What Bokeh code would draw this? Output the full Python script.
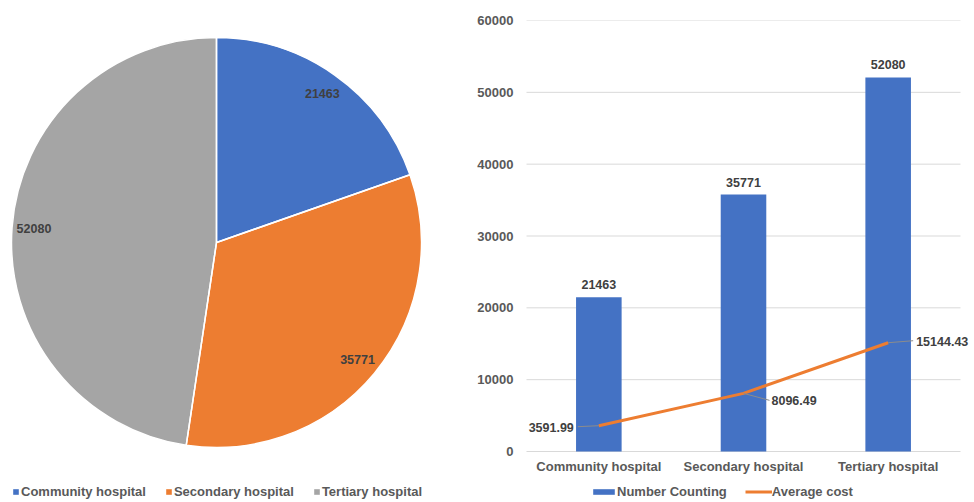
import math
from bokeh.plotting import figure
from bokeh.models import (ColumnDataSource, Range1d, FactorRange, Legend, LegendItem,
                          LabelSet, FixedTicker, NumeralTickFormatter)
from bokeh.layouts import row
from bokeh.core.properties import value
from bokeh.embed import file_html
from bokeh.resources import INLINE

# ---------------- data ----------------
categories = ["Community hospital", "Secondary hospital", "Tertiary hospital"]
counts = [21463, 35771, 52080]
avg_cost = [3591.99, 8096.49, 15144.43]
cost_labels = ["3591.99", "8096.49", "15144.43"]
y_ticks = [0, 10000, 20000, 30000, 40000, 50000, 60000]

# ---------------- style ----------------
colors = ["#4472C4", "#ED7D31", "#A5A5A5"]
FONT = "Liberation Sans"
AXIS_COLOR = "#595959"
LABEL_COLOR = "#404040"
H = 502
TOP = 20           # frame top (both figures)

# ================= PIE =================
PIE_W = 448
PIE_R = 205
LABEL_R = 183
CX, CY = 216, 242  # pie centre in figure pixels
pie = figure(width=PIE_W, height=H,
             x_range=Range1d(-CX, PIE_W - CX),
             y_range=Range1d(-(H - CY), CY - TOP),
             x_axis_type=None, y_axis_type=None,
             output_backend="svg", toolbar_location=None,
             min_border_left=0, min_border_right=0, min_border_top=TOP, min_border_bottom=0)
pie.grid.visible = False
pie.outline_line_color = None

total = float(sum(counts))
starts, ends, lx, ly = [], [], [], []
a = math.pi / 2
for c in counts:
    sweep = c / total * 2 * math.pi
    starts.append(a - sweep)
    ends.append(a)
    mid = a - sweep / 2
    lx.append(LABEL_R * math.cos(mid))
    ly.append(LABEL_R * math.sin(mid))
    a -= sweep

pie_src = ColumnDataSource(dict(cat=categories, start=starts, end=ends, color=colors,
                                lx=lx, ly=ly, label=[str(c) for c in counts]))
wedges = pie.wedge(x=0, y=0, radius=PIE_R, start_angle="start", end_angle="end",
                   fill_color="color", line_color=None, source=pie_src)
pie.wedge(x=0, y=0, radius=PIE_R, start_angle="start", end_angle="end",
          fill_color=None, line_color="white", line_width=1.5, source=pie_src)
pie.add_layout(LabelSet(x="lx", y="ly", text="label", source=pie_src,
                        text_align="center", text_baseline="middle",
                        text_font=value(FONT), text_font_size="12.5px",
                        text_font_style="bold", text_color=LABEL_COLOR))

pie_legend = Legend(items=[LegendItem(label=c, renderers=[wedges], index=i)
                           for i, c in enumerate(categories)],
                    orientation="horizontal", location=(12, 3),
                    glyph_width=7, glyph_height=7, label_standoff=2, spacing=19,
                    padding=0, margin=0, border_line_color=None, background_fill_alpha=0,
                    label_text_font=FONT, label_text_font_size="13px",
                    label_text_font_style="bold", label_text_color=AXIS_COLOR,
                    label_height=14, label_width=0)
pie.add_layout(pie_legend)

# ================= BAR + LINE =================
BAR_W = 974 - PIE_W
GRID_L, GRID_R = 526 - PIE_W, 960 - PIE_W    # plotting band (gridline extent) in figure px
FRAME_L, FRAME_R = GRID_L - 12, BAR_W - 2     # frame slightly wider so labels are not clipped
BOTTOM0 = 451                                 # pixel row of value 0
YMAX = 60000
BAND = (GRID_R - GRID_L) / len(categories)    # pixels per category
pad = ((FRAME_R - FRAME_L) / BAND - len(categories)) / 2
px_x = 1.0 / BAND                             # factor units per pixel
px_y = YMAX / (BOTTOM0 - TOP)                 # data units per pixel
y_start = -(H - BOTTOM0) * px_y

bar = figure(width=BAR_W, height=H,
             x_range=FactorRange(*categories, range_padding=pad, range_padding_units="absolute"),
             y_range=Range1d(y_start, YMAX), output_backend="svg", toolbar_location=None,
             min_border_left=FRAME_L, min_border_right=BAR_W - FRAME_R,
             min_border_top=TOP, min_border_bottom=0)
bar.outline_line_color = None
bar.grid.visible = False
bar.yaxis.ticker = FixedTicker(ticks=y_ticks)
bar.yaxis.formatter = NumeralTickFormatter(format="0")
bar.xaxis.fixed_location = 0
for ax in (bar.xaxis[0], bar.yaxis[0]):
    ax.axis_line_color = None
    ax.major_tick_line_color = None
    ax.minor_tick_line_color = None
    ax.major_tick_out = 0
    ax.major_tick_in = 0
    ax.major_label_text_font = FONT
    ax.major_label_text_font_size = "13px"
    ax.major_label_text_font_style = "bold"
    ax.major_label_text_color = AXIS_COLOR
bar.yaxis.major_label_standoff = 1
bar.xaxis.major_label_standoff = 7

# horizontal gridlines across the category band only
grid_src = ColumnDataSource(dict(
    x0=[[categories[0], -0.5]] * len(y_ticks), x1=[[categories[-1], 0.5]] * len(y_ticks),
    y=y_ticks))
bar.segment(x0="x0", y0="y", x1="x1", y1="y", line_color="#D9D9D9", line_width=1,
            source=grid_src)

src = ColumnDataSource(dict(cat=categories, count=counts, cost=avg_cost,
                            count_label=[str(c) for c in counts], cost_label=cost_labels))
bars = bar.vbar(x="cat", top="count", bottom=0, width=0.315, fill_color=colors[0],
                line_color=None, source=src)
line = bar.line(x="cat", y="cost", line_color=colors[1], line_width=3, source=src)

bar.add_layout(LabelSet(x="cat", y="count", text="count_label", source=src,
                        y_offset=8, text_align="center", text_baseline="bottom",
                        text_font=value(FONT), text_font_size="12.5px",
                        text_font_style="bold", text_color=LABEL_COLOR))

# leader lines and cost labels (pixel offsets from each point)
lead_dx = [-21, 26, 25]
lead_dy = [-1, -7, 2]
lab_dx = [-25, 28, 28]
lab_dy = [-1.5, -7, 1]
lab_align = ["right", "left", "left"]
lead_src = ColumnDataSource(dict(
    x0=categories, y0=avg_cost,
    x1=[[c, dx * px_x] for c, dx in zip(categories, lead_dx)],
    y1=[v + dy * px_y for v, dy in zip(avg_cost, lead_dy)]))
bar.segment(x0="x0", y0="y0", x1="x1", y1="y1", line_color="#8C8C8C",
            line_width=1, source=lead_src)
cost_src = ColumnDataSource(dict(cat=categories, cost=avg_cost, text=cost_labels,
                                 xo=lab_dx, yo=lab_dy, al=lab_align))
bar.add_layout(LabelSet(x="cat", y="cost", text="text", source=cost_src,
                        x_offset="xo", y_offset="yo", text_align="al",
                        text_baseline="middle",
                        text_font=value(FONT), text_font_size="12.5px",
                        text_font_style="bold", text_color=LABEL_COLOR))

bar_legend = Legend(items=[LegendItem(label="Number Counting", renderers=[bars]),
                           LegendItem(label="Average cost", renderers=[line])],
                    orientation="horizontal", location=(590 - PIE_W - FRAME_L, 3),
                    glyph_width=27, glyph_height=7, label_standoff=0, spacing=18,
                    padding=0, margin=0, border_line_color=None, background_fill_alpha=0,
                    label_text_font=FONT, label_text_font_size="13px",
                    label_text_font_style="bold", label_text_color=AXIS_COLOR,
                    label_height=14, label_width=0)
bar.add_layout(bar_legend)

layout = row(pie, bar)
open("out.html", "w").write(file_html(layout, INLINE))
